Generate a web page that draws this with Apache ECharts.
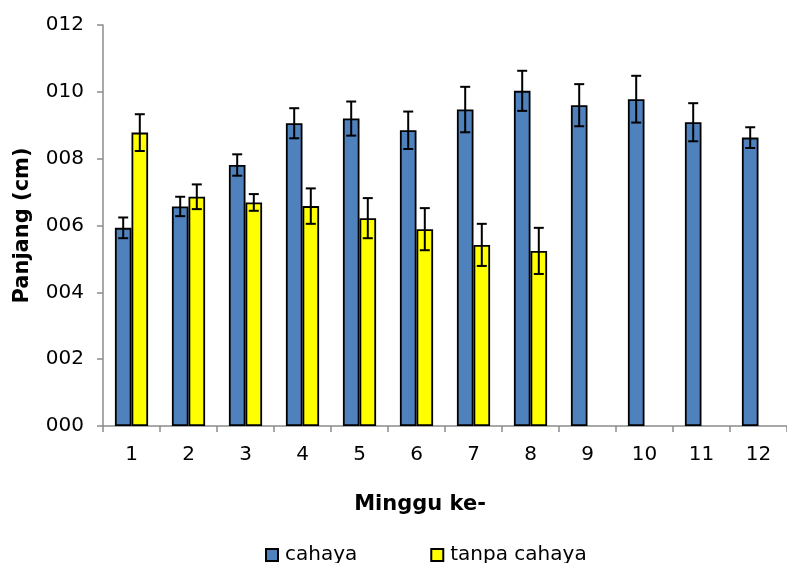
<!DOCTYPE html>
<html>
<head>
<meta charset="utf-8">
<script src="https://cdn.jsdelivr.net/npm/echarts@6/dist/echarts.min.js"></script>
<style>
  html, body { margin: 0; padding: 0; background: #fff; }
  #chart { width: 787px; height: 563px; }
</style>
</head>
<body>
<div id="chart"></div>
<script>
// minggu ke-
const weeks = ['1', '2', '3', '4', '5', '6', '7', '8', '9', '10', '11', '12'];
// panjang rata-rata (cm)
const cahaya = [5.93, 6.57, 7.81, 9.06, 9.20, 8.85, 9.47, 10.03, 9.60, 9.78, 9.09, 8.63];
const tanpaCahaya = [8.78, 6.86, 6.69, 6.58, 6.22, 5.89, 5.42, 5.24, null, null, null, null];
// simpangan (error bar)
const errCahaya = [0.31, 0.29, 0.32, 0.45, 0.51, 0.56, 0.68, 0.60, 0.63, 0.70, 0.57, 0.31];
const errTanpa = [0.55, 0.37, 0.25, 0.53, 0.60, 0.63, 0.63, 0.69, null, null, null, null];
const yTicks = [0, 2, 4, 6, 8, 10, 12];

const BAR_W = 16.6;
const FONT = '"DejaVu Sans", "Liberation Sans", Arial, sans-serif';

function errorData(vals, errs) {
  return vals.map((v, i) => (v == null ? [i, null, null] : [i, v - errs[i], v + errs[i]]));
}

function errorSeries(vals, errs, shift) {
  return {
    type: 'custom',
    z: 10,
    silent: true,
    data: errorData(vals, errs),
    renderItem(params, api) {
      if (api.value(1) == null || isNaN(api.value(1))) { return null; }
      const lo = api.coord([api.value(0), api.value(1)]);
      const hi = api.coord([api.value(0), api.value(2)]);
      const x = lo[0] + shift;
      const cap = 5;
      const style = { stroke: '#000', lineWidth: 2 };
      return {
        type: 'group',
        children: [
          { type: 'line', shape: { x1: x, y1: lo[1], x2: x, y2: hi[1] }, style },
          { type: 'line', shape: { x1: x - cap, y1: lo[1], x2: x + cap, y2: lo[1] }, style },
          { type: 'line', shape: { x1: x - cap, y1: hi[1], x2: x + cap, y2: hi[1] }, style },
        ],
      };
    },
  };
}

const chart = echarts.init(document.getElementById('chart'));
chart.setOption({
  animation: false,
  textStyle: { fontFamily: FONT },
  grid: { left: 103, right: 0, top: 25, bottom: 137, containLabel: false, outerBoundsMode: 'none' },
  legend: {
    left: 260,
    top: 540,
    itemWidth: 12,
    itemHeight: 12,
    itemGap: 73,
    icon: 'rect',
    textStyle: { fontSize: 20, color: '#000', fontFamily: FONT, padding: [0, 0, 0, 2] },
    data: ['cahaya', 'tanpa cahaya'],
  },
  xAxis: {
    type: 'category',
    data: weeks,
    name: 'Minggu ke-',
    nameLocation: 'middle',
    nameGap: 68,
    nameTextStyle: { fontSize: 21, fontWeight: 'bold', color: '#000', padding: [0, 50, 0, 0] },
    axisLine: { lineStyle: { color: '#8c8c8c', width: 1.5 } },
    axisTick: { show: true, length: 6, lineStyle: { color: '#8c8c8c', width: 1.5 } },
    axisLabel: { fontSize: 20, color: '#000', margin: 19 },
  },
  yAxis: {
    type: 'value',
    min: 0,
    max: 12,
    interval: 2,
    name: 'Panjang (cm)',
    nameLocation: 'middle',
    nameGap: 70,
    nameTextStyle: { fontSize: 21, fontWeight: 'bold', color: '#000' },
    splitLine: { show: false },
    axisLine: { show: true, lineStyle: { color: '#8c8c8c', width: 1.5 } },
    axisTick: { show: true, length: 6, lineStyle: { color: '#8c8c8c', width: 1.5 } },
    axisLabel: {
      fontSize: 20,
      color: '#000',
      margin: 19,
      formatter: (v) => (yTicks.includes(v) ? String(v).padStart(3, '0') : ''),
    },
  },
  series: [
    {
      name: 'cahaya',
      type: 'bar',
      data: cahaya,
      barWidth: BAR_W,
      barGap: '0%',
      itemStyle: { color: '#4f81bd', borderColor: '#000', borderWidth: 1.8 },
    },
    {
      name: 'tanpa cahaya',
      type: 'bar',
      data: tanpaCahaya,
      barWidth: BAR_W,
      barGap: '0%',
      itemStyle: { color: '#ffff00', borderColor: '#000', borderWidth: 1.8 },
    },
    errorSeries(cahaya, errCahaya, -BAR_W / 2),
    errorSeries(tanpaCahaya, errTanpa, BAR_W / 2),
  ],
});
window.addEventListener('resize', () => { chart.resize(); });
</script>
</body>
</html>
